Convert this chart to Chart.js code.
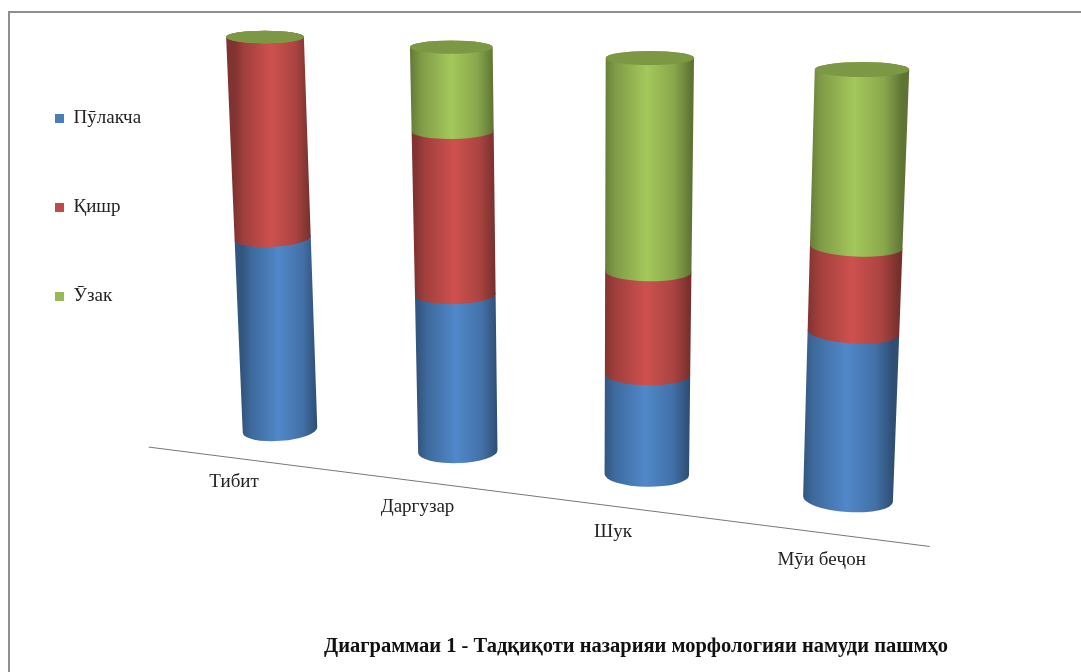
<!doctype html>
<html>
<head>
    <meta charset="utf-8">
    <title>Диаграммаи 1</title>
    <script src="https://cdn.jsdelivr.net/npm/chart.js"></script>
    <style>
        body { margin: 0; background: #fff; }
        #wrap { position: relative; width: 1081px; height: 672px; overflow: hidden; }
        #frame { position: absolute; left: 8px; top: 11px; right: -4px; bottom: -4px; border-left: 2px solid #8f8f8f; border-top: 2px solid #8f8f8f; }
        canvas { position: absolute; left: 0; top: 0; }
    </style>
</head>
<body>
<div id="wrap">
    <div id="frame"></div>
    <canvas id="myChart" width="1081" height="672"></canvas>
</div>

<script>
    const categories = ['Тибит', 'Даргузар', 'Шук', 'Мӯи беҷон'];
    const seriesNames = ['Пӯлакча', 'Қишр', 'Ӯзак'];
    const pulakcha = [50, 40, 25, 40];
    const qishr = [50, 40, 25, 20];
    const uzak = [0, 20, 50, 40];
    const seriesColors = ['#4a7ebb', '#be4b48', '#98b954'];
    const chartTitle = 'Диаграммаи 1 - Тадқиқоти назарияи морфологияи намуди пашмҳо';

    // where the plot plane lands on the page: first/last bar, bottom/top
    const quad = { bl: [280, 430], br: [848, 499], tr: [862, 69.5], tl: [265, 37] };

    function makeProjection(q) {
        const [x0, y0] = q.bl, [x1, y1] = q.br, [x2, y2] = q.tr, [x3, y3] = q.tl;
        const dx1 = x1 - x2, dx2 = x3 - x2, sx = x0 - x1 + x2 - x3;
        const dy1 = y1 - y2, dy2 = y3 - y2, sy = y0 - y1 + y2 - y3;
        const det = dx1 * dy2 - dx2 * dy1;
        const g = (sx * dy2 - dx2 * sy) / det;
        const h = (dx1 * sy - sx * dy1) / det;
        const a = x1 - x0 + g * x1, b = x3 - x0 + h * x3;
        const d = y1 - y0 + g * y1, e = y3 - y0 + h * y3;
        return (s, t) => {
            const w = g * s + h * t + 1;
            return [(a * s + b * t + x0) / w, (d * s + e * t + y0) / w];
        };
    }
    const project = makeProjection(quad);

    function shade(hex, k) {
        const n = parseInt(hex.slice(1), 16);
        const c = [n >> 16, (n >> 8) & 255, n & 255].map(v => Math.min(255, Math.round(v * k)));
        return `rgb(${c[0]},${c[1]},${c[2]})`;
    }

    const cylinders = {
        id: 'cylinders',
        beforeDatasetsDraw(chart) {
            const ctx = chart.ctx;
            const xs = chart.scales.x, ys = chart.scales.y;
            const x0 = xs.getPixelForValue(0), span = xs.getPixelForValue(categories.length - 1) - x0;
            const y0 = ys.getPixelForValue(0), high = y0 - ys.getPixelForValue(100);
            const toS = px => (px - x0) / span;
            const toT = py => (y0 - py) / high;

            // axis line
            ctx.save();
            ctx.strokeStyle = '#777';
            ctx.lineWidth = 1;
            const a = project(-0.263, -0.091), b = project(1.132, -0.091);
            ctx.beginPath();
            ctx.moveTo(a[0], a[1]);
            ctx.lineTo(b[0], b[1]);
            ctx.stroke();

            // category labels
            ctx.fillStyle = '#222';
            ctx.font = '19px "Liberation Serif"';
            ctx.textAlign = 'center';
            ctx.textBaseline = 'middle';
            categories.forEach((label, i) => {
                const s = toS(xs.getPixelForValue(i));
                const p = project((s - 0.5) * 1.055 + 0.5 - 0.067, -0.158);
                ctx.fillText(label, p[0], p[1]);
            });

            categories.forEach((label, i) => {
                seriesNames.forEach((name, j) => {
                    const bar = chart.getDatasetMeta(j).data[i];
                    const s = toS(bar.x), ds = bar.width / 2 / span;
                    const drawEnd = (t) => {
                        const l = project(s - ds, t), r = project(s + ds, t), c = project(s, t);
                        const rx = Math.hypot(r[0] - l[0], r[1] - l[1]) / 2;
                        const foot = project(s, 0), head = project(s, 1);
                        const rot = Math.atan2(head[0] - foot[0], foot[1] - head[1]) * 2 * (1 - t * t);
                        return { l, r, c, rx, ry: rx * (0.29 - 0.13 * t), rot };
                    };
                    const lo = drawEnd(toT(bar.base));
                    const hi = drawEnd(toT(bar.y));
                    const color = seriesColors[j];
                    const grad = ctx.createLinearGradient(lo.c[0] - lo.rx, 0, lo.c[0] + lo.rx, 0);
                    grad.addColorStop(0, shade(color, 0.68));
                    grad.addColorStop(0.12, shade(color, 0.84));
                    grad.addColorStop(0.48, shade(color, 1.08));
                    grad.addColorStop(0.8, shade(color, 0.9));
                    grad.addColorStop(1, shade(color, 0.62));
                    ctx.fillStyle = grad;
                    ctx.beginPath();
                    ctx.ellipse(lo.c[0], lo.c[1], lo.rx, lo.ry, lo.rot, Math.PI, 0, true);
                    ctx.ellipse(hi.c[0], hi.c[1], hi.rx, hi.ry, hi.rot, 0, Math.PI, true);
                    ctx.closePath();
                    ctx.fill();
                    if (j === seriesNames.length - 1) {
                        ctx.fillStyle = shade(color, 0.82);
                        ctx.beginPath();
                        ctx.ellipse(hi.c[0], hi.c[1], hi.rx, hi.ry, hi.rot, 0, Math.PI * 2);
                        ctx.fill();
                    }
                });
            });
            ctx.restore();
            return false;
        }
    };

    new Chart(document.getElementById('myChart'), {
        type: 'bar',
        data: {
            labels: categories,
            datasets: [
                { label: seriesNames[0], data: pulakcha, backgroundColor: seriesColors[0] },
                { label: seriesNames[1], data: qishr, backgroundColor: seriesColors[1] },
                { label: seriesNames[2], data: uzak, backgroundColor: seriesColors[2] }
            ]
        },
        options: {
            responsive: false,
            animation: false,
            barPercentage: 0.43,
            categoryPercentage: 1,
            layout: { padding: { left: -15, right: 133, top: 39, bottom: 3 } },
            scales: {
                x: { stacked: true, display: false },
                y: { stacked: true, display: false, min: 0, max: 100 }
            },
            plugins: {
                tooltip: { enabled: false },
                title: {
                    display: true,
                    text: chartTitle,
                    position: 'bottom',
                    align: 'end',
                    color: '#111',
                    font: { family: '"Liberation Serif"', size: 20.5, weight: 'bold' }
                },
                legend: {
                    position: 'left',
                    align: 'start',
                    labels: {
                        boxWidth: 9,
                        boxHeight: 9,
                        padding: 70,
                        color: '#222',
                        font: { family: '"Liberation Serif"', size: 19 }
                    }
                }
            }
        },
        plugins: [cylinders]
    });
</script>
</body>
</html>
